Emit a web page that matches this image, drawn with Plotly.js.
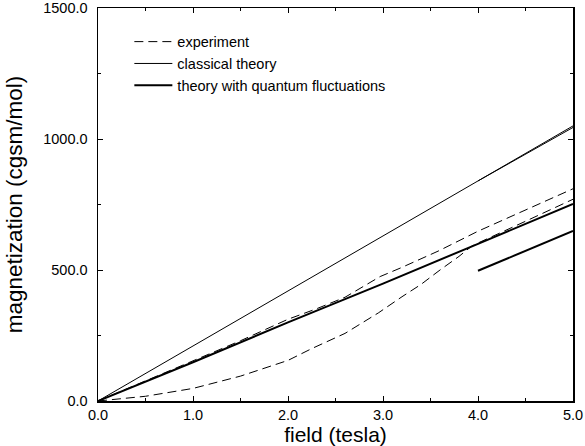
<!DOCTYPE html>
<html>
<head>
<meta charset="utf-8">
<script src="https://cdn.plot.ly/plotly-3.0.1.min.js"></script>
<style>html,body{margin:0;padding:0;background:#fff;}#chart{width:585px;height:446px;}</style>
</head>
<body>
<div id="chart"></div>
<script>
// Experiment, curve 1 (upper dashed)
const expAx = [0, 0.5, 1.0, 1.5, 2.0, 2.3, 2.6, 2.97, 3.18, 3.58, 4.0, 4.5, 5.0];
const expAy = [0, 76, 152, 230, 312, 352, 396, 475, 507, 572, 648, 728, 810];
// Experiment, curve 2 (lower dashed)
const expBx = [0, 0.25, 0.5, 1.0, 1.5, 2.0, 2.25, 2.6, 2.95, 3.2, 3.4, 3.6, 3.8, 3.93, 4.0, 4.5, 5.0];
const expBy = [0, 8, 18, 48, 95, 155, 200, 258, 336, 398, 445, 500, 552, 590, 603, 686, 770];
// Classical theory
const clAx = [0, 5.0];
const clAy = [0, 1050];
const clBx = [4.0, 5.0];
const clBy = [840, 1044];
// Theory with quantum fluctuations
const qAx = [0, 1.0, 2.0, 3.0, 4.0, 5.0];
const qAy = [0, 148, 300, 448, 600, 752];
const qBx = [4.0, 5.0];
const qBy = [497, 649];

const names = ['experiment', 'classical theory', 'theory with quantum fluctuations'];
const xTitle = 'field (tesla)';
const yTitle = 'magnetization (cgsm/mol)';
const xTicks = [0, 1, 2, 3, 4, 5];
const xTickText = ['0.0', '1.0', '2.0', '3.0', '4.0', '5.0'];
const yTicks = [0, 500, 1000, 1500];
const yTickText = ['0.0', '500.0', '1000.0', '1500.0'];

const dashStyle = {color: '#000', width: 1, dash: '9px,5px'};
const thinStyle = {color: '#000', width: 1};
const thickStyle = {color: '#000', width: 2};

const traces = [
  {x: expAx, y: expAy, mode: 'lines', name: names[0], line: dashStyle, legendrank: 1},
  {x: expBx, y: expBy, mode: 'lines', name: names[0], line: dashStyle, showlegend: false},
  {x: clAx, y: clAy, mode: 'lines', name: names[1], line: thinStyle, legendrank: 2},
  {x: clBx, y: clBy, mode: 'lines', name: names[1], line: thinStyle, showlegend: false},
  {x: qAx, y: qAy, mode: 'lines', name: names[2], line: thickStyle, legendrank: 3},
  {x: qBx, y: qBy, mode: 'lines', name: names[2], line: thickStyle, showlegend: false}
];

const fam = 'Arial, "Liberation Sans", Helvetica, sans-serif';
const f = (s) => ({family: fam, size: s, color: '#000'});

const layout = {
  width: 585, height: 446,
  margin: {l: 97.5, r: 11.5, t: 7.5, b: 44.5},
  paper_bgcolor: '#fff', plot_bgcolor: '#fff',
  font: f(14.5),
  showlegend: true,
  legend: {
    x: 0.066, y: 0.955, xanchor: 'left', yanchor: 'top',
    bgcolor: 'rgba(0,0,0,0)', borderwidth: 0,
    font: f(14.5),
    tracegroupgap: 0, itemwidth: 38
  },
  xaxis: {
    range: [0, 5], tickvals: xTicks, ticktext: xTickText,
    showgrid: false, zeroline: false,
    showline: true, linecolor: '#000', linewidth: 1.5, mirror: 'allticks',
    ticks: 'inside', ticklen: 5, tickwidth: 1, tickcolor: '#000',
    ticklabeloverflow: 'allow',
    minor: {dtick: 0.5, tick0: 0, ticks: 'inside', ticklen: 3, tickwidth: 1, tickcolor: '#000', showgrid: false},
    tickfont: f(14.5),
    title: {text: xTitle, font: f(21), standoff: 0}
  },
  yaxis: {
    range: [0, 1500], tickvals: yTicks, ticktext: yTickText,
    showgrid: false, zeroline: false,
    showline: true, linecolor: '#000', linewidth: 1.5, mirror: 'allticks',
    ticks: 'inside', ticklen: 5, tickwidth: 1, tickcolor: '#000',
    ticklabelstandoff: 6, ticklabeloverflow: 'allow',
    minor: {dtick: 250, tick0: 0, ticks: 'inside', ticklen: 3, tickwidth: 1, tickcolor: '#000', showgrid: false},
    tickfont: f(14.5),
    title: {text: yTitle, font: f(22.5), standoff: 14}
  }
};

Plotly.newPlot('chart', traces, layout, {displayModeBar: false, staticPlot: true});
</script>
</body>
</html>
